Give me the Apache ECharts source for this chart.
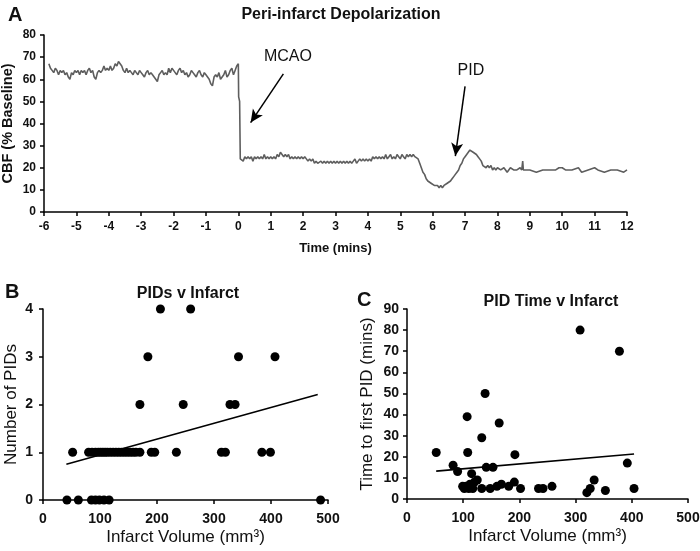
<!DOCTYPE html>
<html>
<head>
<meta charset="utf-8">
<script src="https://cdn.jsdelivr.net/npm/echarts@6/dist/echarts.min.js"></script>
<style>html,body{margin:0;padding:0;background:#fff}#c{width:700px;height:551px}</style>
</head>
<body>
<div id="c"></div>
<script>
// ---- Panel A: CBF trace (time in mins, % baseline) ----
const cbfTrace = [
[-5.85,67],[-5.8,65],[-5.75,64],[-5.7,63],[-5.65,65],[-5.6,64],[-5.55,62],[-5.5,64],[-5.45,63],[-5.4,64],[-5.35,62],[-5.3,63],
[-5.25,61],[-5.2,60],[-5.15,63],[-5.1,62],[-5.05,64],[-5.0,63],[-4.95,64],[-4.9,62],[-4.85,64],[-4.8,63],[-4.75,64],[-4.7,62],
[-4.65,64],[-4.6,65],[-4.55,63],[-4.5,64],[-4.45,61],[-4.4,60],[-4.35,63],[-4.3,64],[-4.25,63],[-4.2,64],[-4.15,66],[-4.1,64],
[-4.05,65],[-4.0,64],[-3.95,66],[-3.9,64],[-3.85,65],[-3.8,67],[-3.75,66],[-3.7,68],[-3.65,67],[-3.6,66],[-3.55,64],[-3.5,63],
[-3.45,65],[-3.4,63],[-3.35,64],[-3.3,63],[-3.25,62],[-3.2,64],[-3.15,63],[-3.1,62],[-3.05,64],[-3.0,63],[-2.95,62],[-2.9,61],
[-2.85,63],[-2.8,64],[-2.75,62],[-2.7,63],[-2.65,62],[-2.6,61],[-2.55,60],[-2.5,59],[-2.45,62],[-2.4,63],[-2.35,64],[-2.3,62],
[-2.25,63],[-2.2,62],[-2.15,65],[-2.1,63],[-2.05,65],[-2.0,64],[-1.95,63],[-1.9,62],[-1.85,64],[-1.8,65],[-1.75,63],[-1.7,64],
[-1.65,62],[-1.6,63],[-1.55,61],[-1.5,62],[-1.45,64],[-1.4,63],[-1.35,62],[-1.3,61],[-1.25,63],[-1.2,64],[-1.15,62],[-1.1,61],
[-1.05,63],[-1.0,62],[-0.95,61],[-0.9,60],[-0.85,58],[-0.8,57],[-0.75,61],[-0.7,62],[-0.65,61],[-0.6,63],[-0.55,60],[-0.5,61],
[-0.45,62],[-0.4,64],[-0.35,61],[-0.3,62],[-0.25,64],[-0.2,65],[-0.15,62],[-0.1,64],[-0.05,66],[0.0,67],[0.01,52],[0.04,50],[0.06,24],
[0.1,24],[0.15,23],[0.2,25],[0.25,24],[0.3,25],[0.35,24],[0.4,25],[0.45,23],[0.5,25],[0.55,24],[0.6,25],[0.65,24],
[0.7,25],[0.75,24],[0.8,26],[0.85,24],[0.9,25],[0.95,24],[1.0,25],[1.05,24],[1.1,25],[1.15,24],[1.2,26],[1.25,25],
[1.3,27],[1.35,26],[1.4,25],[1.45,26],[1.5,25],[1.55,26],[1.6,24],[1.65,25],[1.7,24],[1.75,25],[1.8,24],[1.85,25],
[1.9,24],[1.95,25],[2.0,24],[2.05,25],[2.1,24],[2.15,23],[2.2,24],[2.25,23],[2.3,24],[2.35,22],[2.4,23],[2.45,22],
[2.5,22],[2.55,23],[2.6,22],[2.65,23],[2.7,22],[2.75,23],[2.8,22],[2.85,23],[2.9,22],[2.95,23],[3.0,22],[3.05,23],
[3.1,22],[3.15,23],[3.2,22],[3.25,23],[3.3,22],[3.35,23],[3.4,22],[3.45,23],[3.5,22],[3.55,23],[3.6,24],[3.65,22],
[3.7,23],[3.75,24],[3.8,23],[3.85,24],[3.9,23],[3.95,24],[4.0,23],[4.05,24],[4.1,23],[4.15,25],[4.2,24],[4.25,25],
[4.3,24],[4.35,25],[4.4,24],[4.45,25],[4.5,24],[4.55,26],[4.6,24],[4.65,25],[4.7,26],[4.75,24],[4.8,25],[4.85,24],
[4.9,26],[4.95,25],[5.0,24],[5.05,26],[5.1,25],[5.15,24],[5.2,26],[5.25,25],[5.3,26],[5.35,25],[5.4,26],[5.45,25],
[5.5,25],[5.55,24],[5.6,22],[5.65,20],[5.7,18],[5.75,17],[5.8,15],[5.85,14],[5.9,14],[5.95,13],[6.0,13],[6.05,12],
[6.1,12],[6.15,12],[6.2,11],[6.25,12],[6.3,11],[6.35,12],[6.4,12],[6.45,13],[6.5,13],[6.55,14],[6.6,15],[6.65,16],
[6.7,17],[6.75,18],[6.8,19],[6.85,21],[6.9,22],[6.95,24],[7.0,25],[7.05,26],[7.1,27],[7.15,28],[7.2,28],[7.25,27],
[7.3,27],[7.35,26],[7.4,25],[7.45,24],[7.5,23],[7.55,21],[7.6,21],[7.65,20],[7.7,21],[7.75,20],[7.8,21],[7.85,19],
[7.9,20],[7.95,19],[8.0,20],[8.1,19],[8.2,20],[8.3,18],[8.4,20],[8.5,19],[8.6,19],[8.7,20],[8.75,19],[8.78,23],
[8.8,19],[8.9,19],[9.0,19],[9.2,18],[9.4,19],[9.6,19],[9.8,19],[9.9,20],[10.0,20],[10.1,19],[10.3,19],[10.5,20],
[10.6,18],[10.8,19],[11.0,20],[11.1,19],[11.3,18],[11.5,19],[11.7,19],[11.9,18],[12.0,19]
];
const mcaoArrow = [[1.39,62.4],[0.38,40.4]];
const pidArrow  = [[7.0,56.8],[6.7,25.3]];
const mcaoLabelPos = [1.53,70.3];
const pidLabelPos  = [7.18,64];

// ---- Panel B: Number of PIDs vs infarct volume ----
const pidsVolume = [42,62,85,92,99,107,116,487,
  52,80,86,92,97,101,105,109,113,118,123,128,133,138,143,148,153,158,163,170,190,196,234,313,320,384,399,
  170,246,328,337,
  184,343,407,
  206,259];
const pidsCount = [0,0,0,0,0,0,0,0,
  1,1,1,1,1,1,1,1,1,1,1,1,1,1,1,1,1,1,1,1,1,1,1,1,1,1,1,
  2,2,2,2,
  3,3,3,
  4,4];
const pidsFit = [[41,0.75],[482,2.21]];

// ---- Panel C: Time to first PID vs infarct volume ----
const timeVolume = [52,82,90,99,102,105,107,108,110,112,115,117,120,125,133,133,139,141,148,153,160,164,168,181,191,192,202,234,242,258,308,320,326,333,353,378,392,404];
const timeFirst  = [22,16,13,6,5,6,39,22,5,7,12,5,8,9,29,5,50,15,5,15,6,36,7,6,8,21,5,5,5,6,80,3,5,9,4,70,17,5];
const timeFit = [[52,13.2],[404,21.3]];

const ARIAL = '"Liberation Sans",Arial,sans-serif';
const zip = (a,b)=>a.map((v,i)=>[v,b[i]]);

function axisCommon(size, margin){
  return {
    axisLine:{show:true,onZero:false,lineStyle:{color:'#000',width:1.5}},
    axisTick:{show:true,inside:false,length:4,lineStyle:{color:'#000',width:1.5}},
    splitLine:{show:false},
    axisLabel:{color:'#111',fontWeight:'bold',fontFamily:ARIAL,fontSize:size,margin:margin}
  };
}
const nameStyleBC = {fontWeight:'normal',fontFamily:ARIAL,fontSize:17,color:'#111'};

const chart = echarts.init(document.getElementById('c'), null, {renderer:'canvas'});
chart.setOption({
  animation:false,
  backgroundColor:'#fff',
  title:[
    {text:'A',left:3,top:0,textStyle:{fontSize:20,fontWeight:'bold',fontFamily:ARIAL,color:'#111'}},
    {text:'Peri-infarct Depolarization',left:336,top:2,textAlign:'center',textStyle:{fontSize:16,fontWeight:'bold',fontFamily:ARIAL,color:'#111'}},
    {text:'B',left:0,top:277,textStyle:{fontSize:20,fontWeight:'bold',fontFamily:ARIAL,color:'#111'}},
    {text:'PIDs v Infarct',left:183,top:281,textAlign:'center',textStyle:{fontSize:16,fontWeight:'bold',fontFamily:ARIAL,color:'#111'}},
    {text:'C',left:352,top:285,textStyle:{fontSize:20,fontWeight:'bold',fontFamily:ARIAL,color:'#111'}},
    {text:'PID Time v Infarct',left:546,top:289,textAlign:'center',textStyle:{fontSize:16,fontWeight:'bold',fontFamily:ARIAL,color:'#111'}}
  ],
  grid:[
    {left:44,right:73,top:35,bottom:339,containLabel:false,outerBoundsMode:'none'},
    {left:43,right:372,top:309,bottom:51,containLabel:false,outerBoundsMode:'none'},
    {left:407,right:12,top:309,bottom:52,containLabel:false,outerBoundsMode:'none'}
  ],
  xAxis:[
    Object.assign(axisCommon(12,9),{gridIndex:0,type:'value',min:-6,max:12,interval:1,
      name:'Time (mins)',nameLocation:'middle',nameGap:30,
      nameTextStyle:{fontWeight:'bold',fontFamily:ARIAL,fontSize:13,color:'#111'}}),
    Object.assign(axisCommon(14,12),{gridIndex:1,type:'value',min:0,max:500,interval:100,
      name:'Infarct Volume (mm³)',nameLocation:'middle',nameGap:29,nameTextStyle:nameStyleBC}),
    Object.assign(axisCommon(14,12),{gridIndex:2,type:'value',min:0,max:500,interval:100,
      name:'Infarct Volume (mm³)',nameLocation:'middle',nameGap:29,nameTextStyle:nameStyleBC})
  ],
  yAxis:[
    Object.assign(axisCommon(12,8),{gridIndex:0,type:'value',min:0,max:80,interval:10,
      name:'CBF (% Baseline)',nameLocation:'middle',nameGap:29,nameMoveOverlap:false,
      nameTextStyle:{fontWeight:'bold',fontFamily:ARIAL,fontSize:14.5,color:'#111'}}),
    Object.assign(axisCommon(14,10),{gridIndex:1,type:'value',min:0,max:4,interval:1,
      name:'Number of PIDs',nameLocation:'middle',nameGap:23,nameTextStyle:nameStyleBC}),
    Object.assign(axisCommon(14,8),{gridIndex:2,type:'value',min:0,max:90,interval:10,
      name:'Time to first PID (mins)',nameLocation:'middle',nameGap:31,nameTextStyle:nameStyleBC})
  ],
  series:[
    {type:'line',xAxisIndex:0,yAxisIndex:0,data:cbfTrace,showSymbol:false,
      lineStyle:{color:'#5e5e5e',width:1.6},
      markLine:{silent:true,symbol:['none','arrow'],symbolSize:[9,13],
        lineStyle:{color:'#000',width:1.5,type:'solid'},label:{show:false},
        data:[
          [{coord:mcaoArrow[0]},{coord:mcaoArrow[1]}],
          [{coord:pidArrow[0]},{coord:pidArrow[1]}]
        ]},
      markPoint:{silent:true,symbol:'circle',symbolSize:0,
        label:{show:true,color:'#111',fontFamily:ARIAL,fontSize:16,position:'inside'},
        data:[
          {coord:mcaoLabelPos,value:'MCAO',label:{formatter:'MCAO'}},
          {coord:pidLabelPos,value:'PID',label:{formatter:'PID'}}
        ]}
    },
    {type:'scatter',xAxisIndex:1,yAxisIndex:1,data:zip(pidsVolume,pidsCount),symbolSize:9,
      itemStyle:{color:'#000',opacity:1},z:3},
    {type:'line',xAxisIndex:1,yAxisIndex:1,data:pidsFit,showSymbol:false,
      lineStyle:{color:'#000',width:1.6},z:4},
    {type:'scatter',xAxisIndex:2,yAxisIndex:2,data:zip(timeVolume,timeFirst),symbolSize:9,
      itemStyle:{color:'#000',opacity:1},z:3},
    {type:'line',xAxisIndex:2,yAxisIndex:2,data:timeFit,showSymbol:false,
      lineStyle:{color:'#000',width:1.6},z:4}
  ]
});
</script>
</body>
</html>
